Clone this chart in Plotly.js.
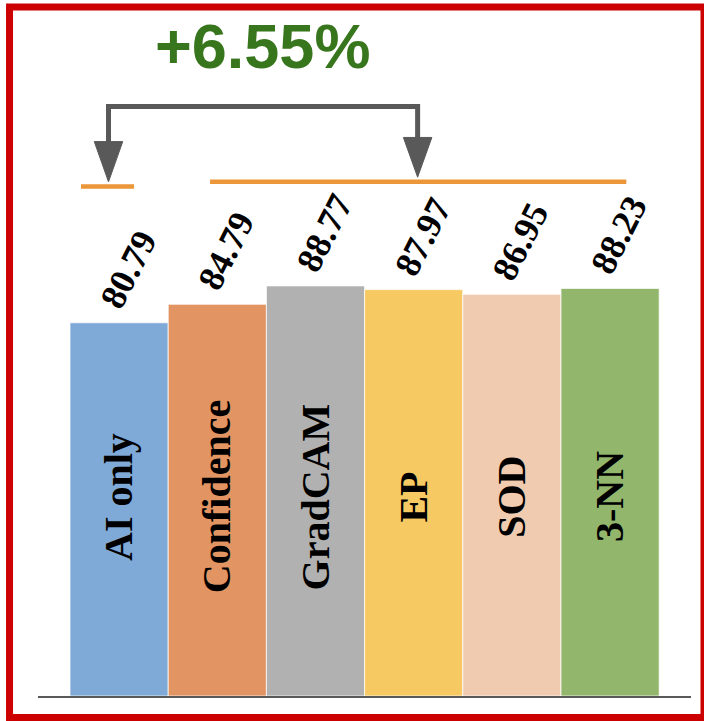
<!DOCTYPE html>
<html>
<head>
<meta charset="utf-8">
<script src="https://cdn.plot.ly/plotly-3.0.1.min.js"></script>
<style>
  html, body { margin: 0; padding: 0; background: #ffffff; }
  #chart { width: 704px; height: 721px; }
</style>
</head>
<body>
<div id="chart"></div>
<script>
// ---- data ----
const categories = ["AI only", "Confidence", "GradCAM", "EP", "SOD", "3-NN"];
const accuracy = [80.79, 84.79, 88.77, 87.97, 86.95, 88.23];
const valueLabels = ["80.79", "84.79", "88.77", "87.97", "86.95", "88.23"];
const gainLabel = "+6.55%";
const barColors = ["#7FA9D7", "#E29462", "#B1B1B1", "#F7C963", "#F0CBAF", "#93B66D"];

// ---- layout helpers ----
const idx = categories.map((_, i) => i);
const yMax = 150.65;
const grey = "#595959";
const orange = "#EB9638";

const barTrace = {
  type: "bar",
  x: idx,
  y: accuracy,
  width: 1,
  marker: { color: barColors, line: { color: "rgba(255,255,255,0.75)", width: 1 } },
  hoverinfo: "skip",
  showlegend: false
};

const annotations = [];
// value labels above bars
idx.forEach(i => {
  annotations.push({
    x: i, y: accuracy[i], xref: "x", yref: "y",
    text: "<b>" + valueLabels[i] + "</b>",
    showarrow: false, textangle: -63,
    xanchor: "center", yanchor: "middle",
    xshift: 9, yshift: 53,
    font: { family: "Liberation Serif, Times New Roman, serif", size: 36, color: "#000000" }
  });
});
// category labels inside bars
idx.forEach(i => {
  annotations.push({
    x: i, y: 43.1, xref: "x", yref: "y",
    text: "<b>" + categories[i] + "</b>",
    showarrow: false, textangle: -90,
    xanchor: "center", yanchor: "middle",
    font: { family: "Liberation Serif, Times New Roman, serif", size: 40, color: "#000000" }
  });
});
// gain label
annotations.push({
  x: 1.46, y: 140.6, xref: "x", yref: "y",
  text: "<b>" + gainLabel + "</b>",
  showarrow: false, xanchor: "center", yanchor: "middle",
  font: { family: "Liberation Sans, Arial, sans-serif", size: 63, color: "#38761D" }
});

// bracket geometry (in axis units)
const leftX = -0.108, rightX = 3.04;
const bracketY = 127.6;
const leftHeadTop = 119.7, leftTip = 111.3;
const rightHeadTop = 120.6, rightTip = 112.3;
const headHalf = 0.145;

const shapes = [
  // bracket body
  { type: "path", xref: "x", yref: "y",
    path: `M ${leftX},${leftHeadTop} L ${leftX},${bracketY} L ${rightX},${bracketY} L ${rightX},${rightHeadTop}`,
    line: { color: grey, width: 5 } },
  // arrow heads
  { type: "path", xref: "x", yref: "y",
    path: `M ${leftX - headHalf},${leftHeadTop + 0.3} L ${leftX + headHalf},${leftHeadTop + 0.3} L ${leftX},${leftTip} Z`,
    fillcolor: grey, line: { color: grey, width: 1 } },
  { type: "path", xref: "x", yref: "y",
    path: `M ${rightX - headHalf},${rightHeadTop + 0.3} L ${rightX + headHalf},${rightHeadTop + 0.3} L ${rightX},${rightTip} Z`,
    fillcolor: grey, line: { color: grey, width: 1 } },
  // orange level lines
  { type: "line", xref: "x", yref: "y", x0: -0.388, x1: 0.152, y0: 110.3, y1: 110.3,
    line: { color: orange, width: 4.5 } },
  { type: "line", xref: "x", yref: "y", x0: 0.926, x1: 5.165, y0: 111.3, y1: 111.3,
    line: { color: orange, width: 4.5 } },
  // red frame
  { type: "rect", xref: "paper", yref: "paper",
    x0: -0.0436, x1: 1.0199, y0: -0.0309, y1: 0.9899,
    line: { color: "#CC0000", width: 7 }, fillcolor: "rgba(0,0,0,0)" }
];

const layout = {
  width: 704, height: 721,
  margin: { l: 38, r: 13, t: 0, b: 25, pad: 0 },
  paper_bgcolor: "#ffffff", plot_bgcolor: "#ffffff",
  bargap: 0,
  xaxis: {
    range: [-0.826, 5.824], showgrid: false, zeroline: false,
    showticklabels: false, ticks: "",
    showline: true, linecolor: grey, linewidth: 2, fixedrange: true
  },
  yaxis: {
    range: [0, yMax], visible: false, showgrid: false, zeroline: false, fixedrange: true
  },
  annotations: annotations,
  shapes: shapes,
  showlegend: false
};

Plotly.newPlot("chart", [barTrace], layout, { displayModeBar: false, staticPlot: true });
</script>
</body>
</html>
